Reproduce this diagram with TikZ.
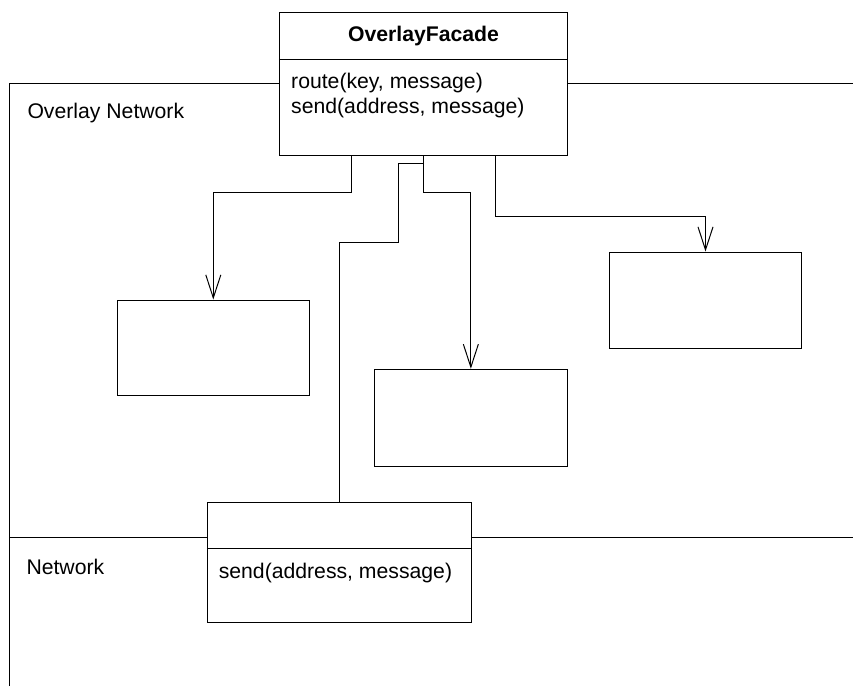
\documentclass[tikz,border=0pt]{standalone}
\usepackage{fontspec}
\setmainfont{Liberation Sans}
\usetikzlibrary{arrows.meta,positioning,calc}

\begin{document}
\begin{tikzpicture}[x=1pt,y=-1pt,line width=1pt,
  every node/.style={inner sep=0pt,font=\fontsize{21.2}{25}\selectfont},
  cls/.style={draw,rectangle,minimum width=#1},
  layer/.style={line width=1.6pt},
  >={Straight Barb[length=23pt,width=15pt]}]
\useasboundingbox (0,0) rectangle (853,686);
% classes
\node[cls=288.4,minimum height=143] (facade) at (423.5,83.5) {};
\node[cls=192,minimum height=95.7] (box1) at (213.3,347.85) {};
\node[cls=193.7,minimum height=96.7] (box2) at (470.85,417.65) {};
\node[cls=192.4,minimum height=96] (box3) at (705.5,300) {};
\node[cls=264.4,minimum height=120] (netbox) at (339.5,562) {};
\draw ([yshift=-48pt]facade.north west) -- ([yshift=-48pt]facade.north east);
\draw ([yshift=-47pt]netbox.north west) -- ([yshift=-47pt]netbox.north east);
\node[font=\fontsize{21.2}{25}\selectfont\bfseries] (title) at (423.5,36) {OverlayFacade};
\node[anchor=west] (route) at (290.7,83) {route(key, message)};
\node[anchor=west] (send) at (290.7,108) {send(address, message)};
\node[anchor=west] (netsend) at (218.3,573) {send(address, message)};
% layers
\coordinate (netline) at (9.5,537.5);
\draw[layer] (9.5,686) -- (9.5,83.5) -- (facade.west);
\draw[layer] (facade.east) -- (853,83.5);
\draw[layer] (netline) -- (netline -| netbox.west);
\draw[layer] (netline -| netbox.east) -- (853,537.5);
\node[anchor=west] (overlay) at (27,112.7) {Overlay Network};
\node[anchor=west] (network) at (26,566.7) {Network};
% connectors
\draw[->] ([xshift=-72pt]facade.south) -- ++(0,37) -| (box1.north);
\draw[->] (facade.south) -- ++(0,37) -| (box2.north);
\draw[->] ([xshift=72pt]facade.south) -- ++(0,60.7) -| (box3.north);
\coordinate (fork) at ([yshift=-8pt]facade.south);
\draw (netbox.north) -- ++(0,-259) -| ([xshift=-25.5pt]fork) -- (fork);
\end{tikzpicture}
\end{document}
